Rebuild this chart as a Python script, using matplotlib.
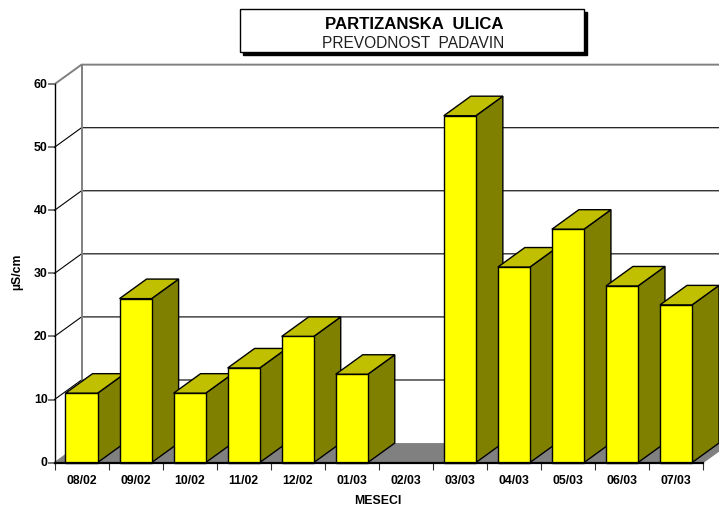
import matplotlib
matplotlib.use("Agg")
import matplotlib.pyplot as plt
from matplotlib.patches import Rectangle
from matplotlib.transforms import ScaledTranslation

months = ["08/02", "09/02", "10/02", "11/02", "12/02", "01/03",
          "02/03", "03/03", "04/03", "05/03", "06/03", "07/03"]
values = [11, 26, 11, 15, 20, 14, 0, 55, 31, 37, 28, 25]
yticks = [0, 10, 20, 30, 40, 50, 60]

W, H = 719, 506
DEPTH_X = 0.5   # one category = 54 px, depth = 27 px
DEPTH_Y = 3.1   # one unit = 6.3 px, depth = 19.5 px
BAR_W = 0.593

plt.rcParams["font.family"] = ["Liberation Sans", "DejaVu Sans"]

fig = plt.figure(figsize=(W / 100, H / 100), dpi=100)
ax = fig.add_axes([54.5 / W, (H - 463.6) / H, 648.5 / W, 378.4 / H])
n = len(months)
ax.set_xlim(-0.5, n - 0.5)
ax.set_ylim(0, 60)

# floor
ax.fill([-0.5, n - 0.5, n - 0.5 + DEPTH_X, -0.5 + DEPTH_X],
        [0, 0, DEPTH_Y, DEPTH_Y], color="#808080", lw=0, zorder=1, clip_on=False)

# back wall and grid
back_x = -0.5 + DEPTH_X
for v in yticks[1:]:
    col = "#808080" if v == 60 else "black"
    lw = 1.4 if v == 60 else 0.8
    ax.plot([-0.5, back_x, n], [v, v + DEPTH_Y, v + DEPTH_Y], color=col, lw=lw,
            zorder=2, clip_on=False)
ax.plot([back_x, back_x], [DEPTH_Y, 60 + DEPTH_Y], color="#808080", lw=1.4,
        zorder=2, clip_on=False)
ax.plot([-0.5, back_x], [0, DEPTH_Y], color="#808080", lw=0.8, zorder=2, clip_on=False)
ax.plot([n - 0.5, n - 0.5 + DEPTH_X], [0, DEPTH_Y], color="#808080", lw=0.8,
        zorder=2, clip_on=False)

# bars, left to right so each one covers the side of the one before
for i, v in enumerate(values):
    if v == 0:
        continue
    x0 = i - BAR_W / 2
    x1 = i + BAR_W / 2
    z = 3 + i
    ax.fill([x1, x1 + DEPTH_X, x1 + DEPTH_X, x1], [0, DEPTH_Y, v + DEPTH_Y, v],
            facecolor="#808000", edgecolor="black", lw=1, zorder=z, clip_on=False)
    ax.fill([x0, x1, x1 + DEPTH_X, x0 + DEPTH_X], [v, v, v + DEPTH_Y, v + DEPTH_Y],
            facecolor="#C0C000", edgecolor="black", lw=1, zorder=z, clip_on=False)
    ax.bar(i, v, width=BAR_W, color="#FFFF00", edgecolor="black", lw=1, zorder=z,
           clip_on=False)

for s in ["top", "right"]:
    ax.spines[s].set_visible(False)
ax.spines["left"].set_linewidth(1.0)
ax.spines["bottom"].set_linewidth(1.6)
ax.spines["left"].set_zorder(20)
ax.spines["bottom"].set_zorder(20)

ax.set_yticks(yticks)
ax.set_yticklabels([str(v) for v in yticks], fontsize=8.8, fontweight="bold")
ax.tick_params(axis="y", length=5, width=1.2, color="#606060", pad=0)
# labels sit a little above their ticks in the reference
lift = ScaledTranslation(0, 2 / 100, fig.dpi_scale_trans)
for lab in ax.get_yticklabels():
    lab.set_transform(lab.get_transform() + lift)

ax.set_xticks([i - 0.5 for i in range(n + 1)])
ax.set_xticklabels([])
ax.set_xticks(range(n), minor=True)
ax.set_xticklabels(months, minor=True, fontsize=8.8, fontweight="bold")
ax.tick_params(axis="x", which="major", length=5, width=0.8, color="#303030")
ax.tick_params(axis="x", which="minor", length=0, pad=8)

fig.text(378 / W, 1 - 501.5 / H, "MESECI", fontsize=8.8, fontweight="bold",
         ha="center", va="center")
fig.text(17 / W, 1 - 272 / H, "µS/cm", fontsize=8.8, fontweight="bold",
         rotation=90, ha="center", va="center")

# title box with drop shadow
fig.add_artist(Rectangle((243 / W, 1 - 55.5 / H), 344 / W, 43 / H,
                         transform=fig.transFigure, facecolor="black", edgecolor="black"))
fig.add_artist(Rectangle((240 / W, 1 - 52.7 / H), 344 / W, 43 / H,
                         transform=fig.transFigure, facecolor="white", edgecolor="black", lw=1))
fig.text(414.5 / W, 1 - 24.5 / H, "PARTIZANSKA  ULICA", fontsize=12.1, fontweight="bold",
         ha="center", va="center")
fig.text(413.5 / W, 1 - 43 / H, "PREVODNOST  PADAVIN", fontsize=11.2,
         ha="center", va="center", color="#202020")

fig.savefig("out.png", dpi=100)
